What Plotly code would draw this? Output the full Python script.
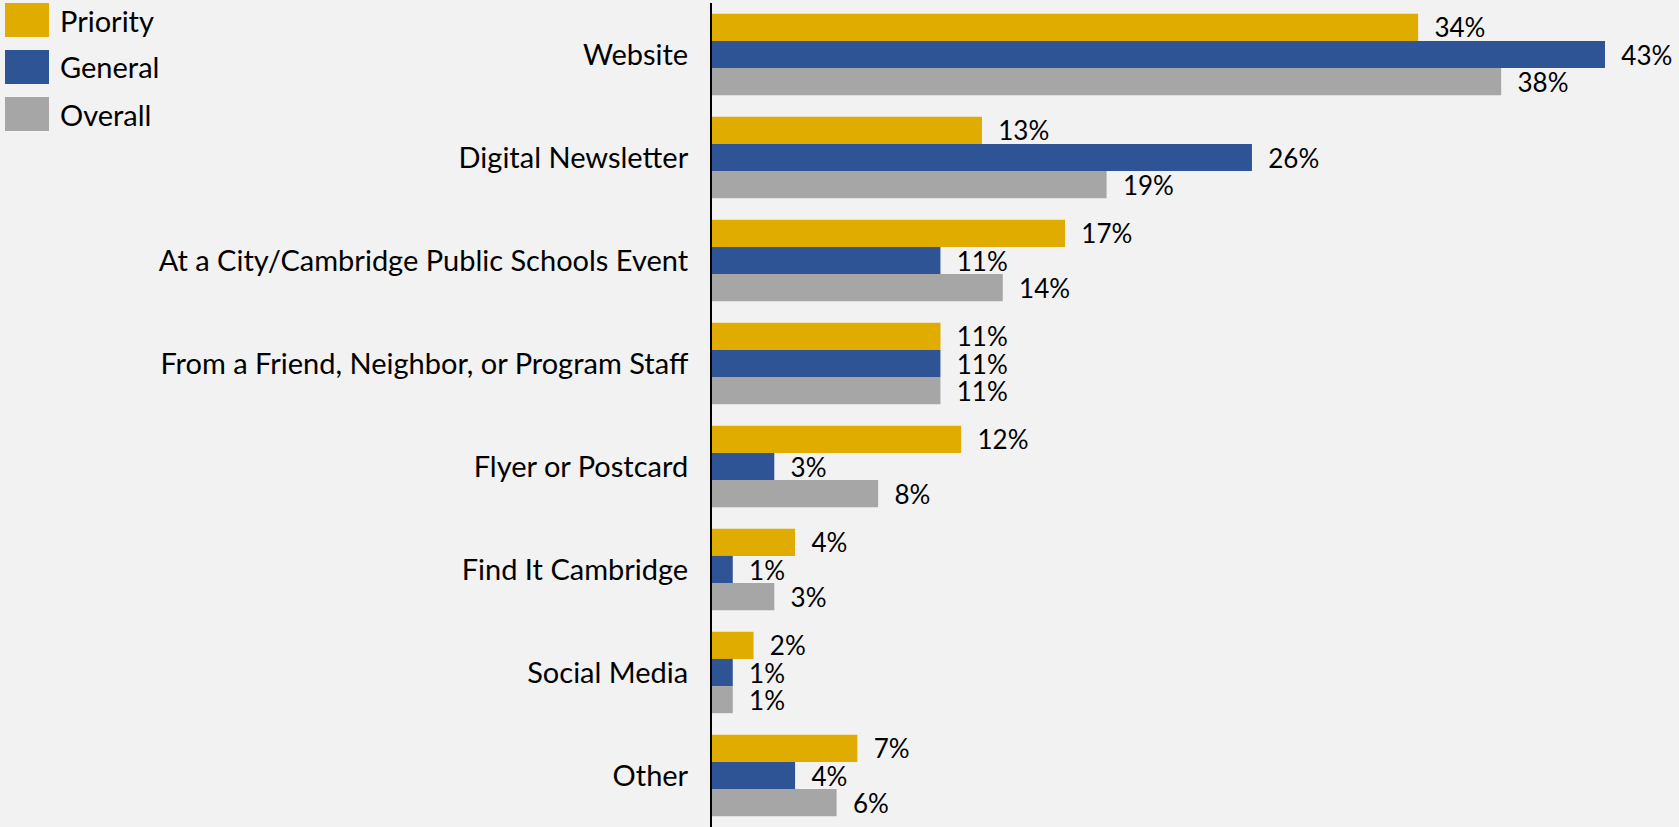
import plotly.graph_objects as go

categories = [
    "Website",
    "Digital Newsletter",
    "At a City/Cambridge Public Schools Event",
    "From a Friend, Neighbor, or Program Staff",
    "Flyer or Postcard",
    "Find It Cambridge",
    "Social Media",
    "Other",
]
series_names = ["Priority", "General", "Overall"]
priority = [34, 13, 17, 11, 12, 4, 2, 7]
general = [43, 26, 11, 11, 3, 1, 1, 4]
overall = [38, 19, 14, 11, 8, 3, 1, 6]
colors = ["#E0AC00", "#2E5495", "#A6A6A6"]

W, H = 1679, 827
L, R, T, B = 712, 20, 3, 0
FONT = "Lato"
FS = 29
LABEL_FS = 26

fig = go.Figure()
for name, vals, col in zip(series_names, [priority, general, overall], colors):
    fig.add_trace(
        go.Bar(
            y=categories,
            x=vals,
            name=name,
            orientation="h",
            marker=dict(color=col, line_width=0),
            text=[f"  {v}%" for v in vals],
            textposition="outside",
            constraintext="none",
            textfont=dict(size=LABEL_FS, color="black", family=FONT),
            cliponaxis=False,
            hoverinfo="skip",
            showlegend=False,
        )
    )

# legend drawn by hand so the swatches can be large like the original
pw = W - L - R
ph = H - T - B


def px_x(x):
    return (x - L) / pw


def px_y(y):
    return 1 - (y - T) / ph


for i, (name, col) in enumerate(zip(series_names, colors)):
    top = 3 + i * 47
    fig.add_shape(
        type="rect", xref="paper", yref="paper",
        x0=px_x(5), x1=px_x(49), y0=px_y(top), y1=px_y(top + 34),
        fillcolor=col, line_width=0,
    )
    fig.add_annotation(
        xref="paper", yref="paper", x=px_x(58), y=px_y(top + 17),
        text=name, showarrow=False, xanchor="left", yanchor="middle",
        font=dict(size=FS, color="black", family=FONT),
    )

fig.update_layout(
    width=W,
    height=H,
    barmode="group",
    bargap=0.21,
    bargroupgap=0,
    paper_bgcolor="#F2F2F2",
    plot_bgcolor="#F2F2F2",
    margin=dict(l=L, r=R, t=T, b=B),
    font=dict(family=FONT, size=FS, color="black"),
    xaxis=dict(
        range=[0, 45.6],
        visible=False,
        showgrid=False,
        zeroline=False,
    ),
    yaxis=dict(
        autorange="reversed",
        showline=True,
        linecolor="black",
        linewidth=2,
        ticks="",
        ticklabelstandoff=16,
        showgrid=False,
        tickfont=dict(size=FS, family=FONT, color="black"),
    ),
)

fig.write_html(
    "out.html",
    config={"displayModeBar": False},
    post_script="document.body.style.margin='0';document.body.style.background='#F2F2F2';",
)
